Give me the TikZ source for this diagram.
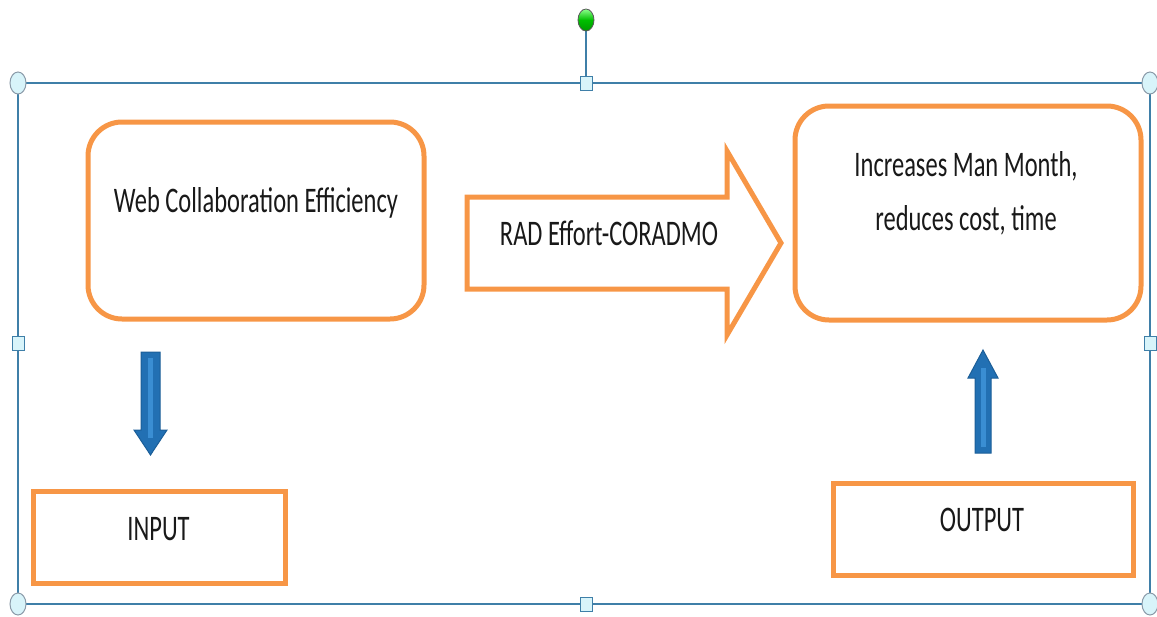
\documentclass[tikz,border=0pt]{standalone}
\usepackage{fontspec}
\setmainfont{Carlito}
\usetikzlibrary{calc}
\definecolor{boxorange}{HTML}{F79646}
\definecolor{selblue}{HTML}{3F7FA8}
\definecolor{handlefill}{HTML}{D8F4FA}
\definecolor{handleedge}{HTML}{8A9AA8}
\definecolor{arrowblue}{HTML}{2270B3}
\definecolor{arrowedge}{HTML}{1B5E98}
\definecolor{arrowlight}{HTML}{3A8ED3}
\tikzset{
  roundbox/.style={draw=boxorange, line width=5pt, rounded corners=34pt, fill=white},
  plainbox/.style={draw=boxorange, line width=5pt, fill=white},
  label/.style={font=\fontsize{36}{54}\selectfont, align=center, text=black!90, inner sep=0pt, xscale=0.68},
  frame/.style={draw=selblue, line width=1.6pt},
  cornerhandle/.style={draw=handleedge, fill=handlefill, line width=1pt},
  sidehandle/.style={draw=selblue, fill=handlefill, line width=1pt},
  bluearrow/.style={fill=arrowblue, draw=arrowedge, line width=1pt},
  highlight/.style={draw=arrowlight, line width=5pt},
}
\begin{document}
\begin{tikzpicture}[x=1pt,y=-1pt]
  \useasboundingbox (0,0) rectangle (1157,616);

  % selection frame with rotation handle
  \draw[frame] (18,83) rectangle (1150,604);
  \coordinate (rottop) at (586,28);
  \coordinate (rotbase) at (586,83);
  \draw[selblue, line width=1.4pt] (rottop) -- (rotbase);
  \shade[draw=gray!70!black, line width=0.8pt, top color=green!45!white, bottom color=green!60!black, middle color=green!75!black]
    (586,20) ellipse (8 and 11);

  % resize handles
  \foreach \x/\y in {18/83, 1150/83, 18/604, 1150/604}
    \draw[cornerhandle] (\x,\y) ellipse (8 and 11);
  \foreach \x/\y in {586/83, 18/343, 1150/343, 586/604}
    \draw[sidehandle] (\x-6,\y-7) rectangle (\x+6,\y+7);

  % input side
  \draw[roundbox] (88,122) rectangle (424,319);
  \node[label] (web) at (256,203) {Web Collaboration Efficiency};

  \draw[plainbox] (33,491) rectangle (285,583);
  \node[label] (input) at (158.5,529) {INPUT};

  % process arrow
  \draw[draw=boxorange, line width=5pt, fill=white, line join=miter]
    (467,197) -- (727,197) -- (727,151) -- (781,243) -- (727,335) -- (727,289) -- (467,289) -- cycle;
  \node[label] (rad) at (609,233) {RAD Effort-CORADMO};

  % output side
  \draw[roundbox] (795,106) rectangle (1141,320);
  \node[label] (result) at (966,193) {Increases Man Month,\\reduces cost, time};

  \draw[plainbox] (833,483) rectangle (1133,575);
  \node[label] (output) at (982,520) {OUTPUT};

  % blue direction arrows
  \draw[bluearrow] (141,352) -- (160,352) -- (160,430) -- (167,430) -- (150.5,455) -- (134,430) -- (141,430) -- cycle;
  \draw[highlight] (150.5,358) -- (150.5,438);
  \draw[bluearrow] (975,453) -- (991,453) -- (991,378) -- (998,378) -- (983,350) -- (968,378) -- (975,378) -- cycle;
  \draw[highlight] (983,447) -- (983,368);
\end{tikzpicture}
\end{document}
